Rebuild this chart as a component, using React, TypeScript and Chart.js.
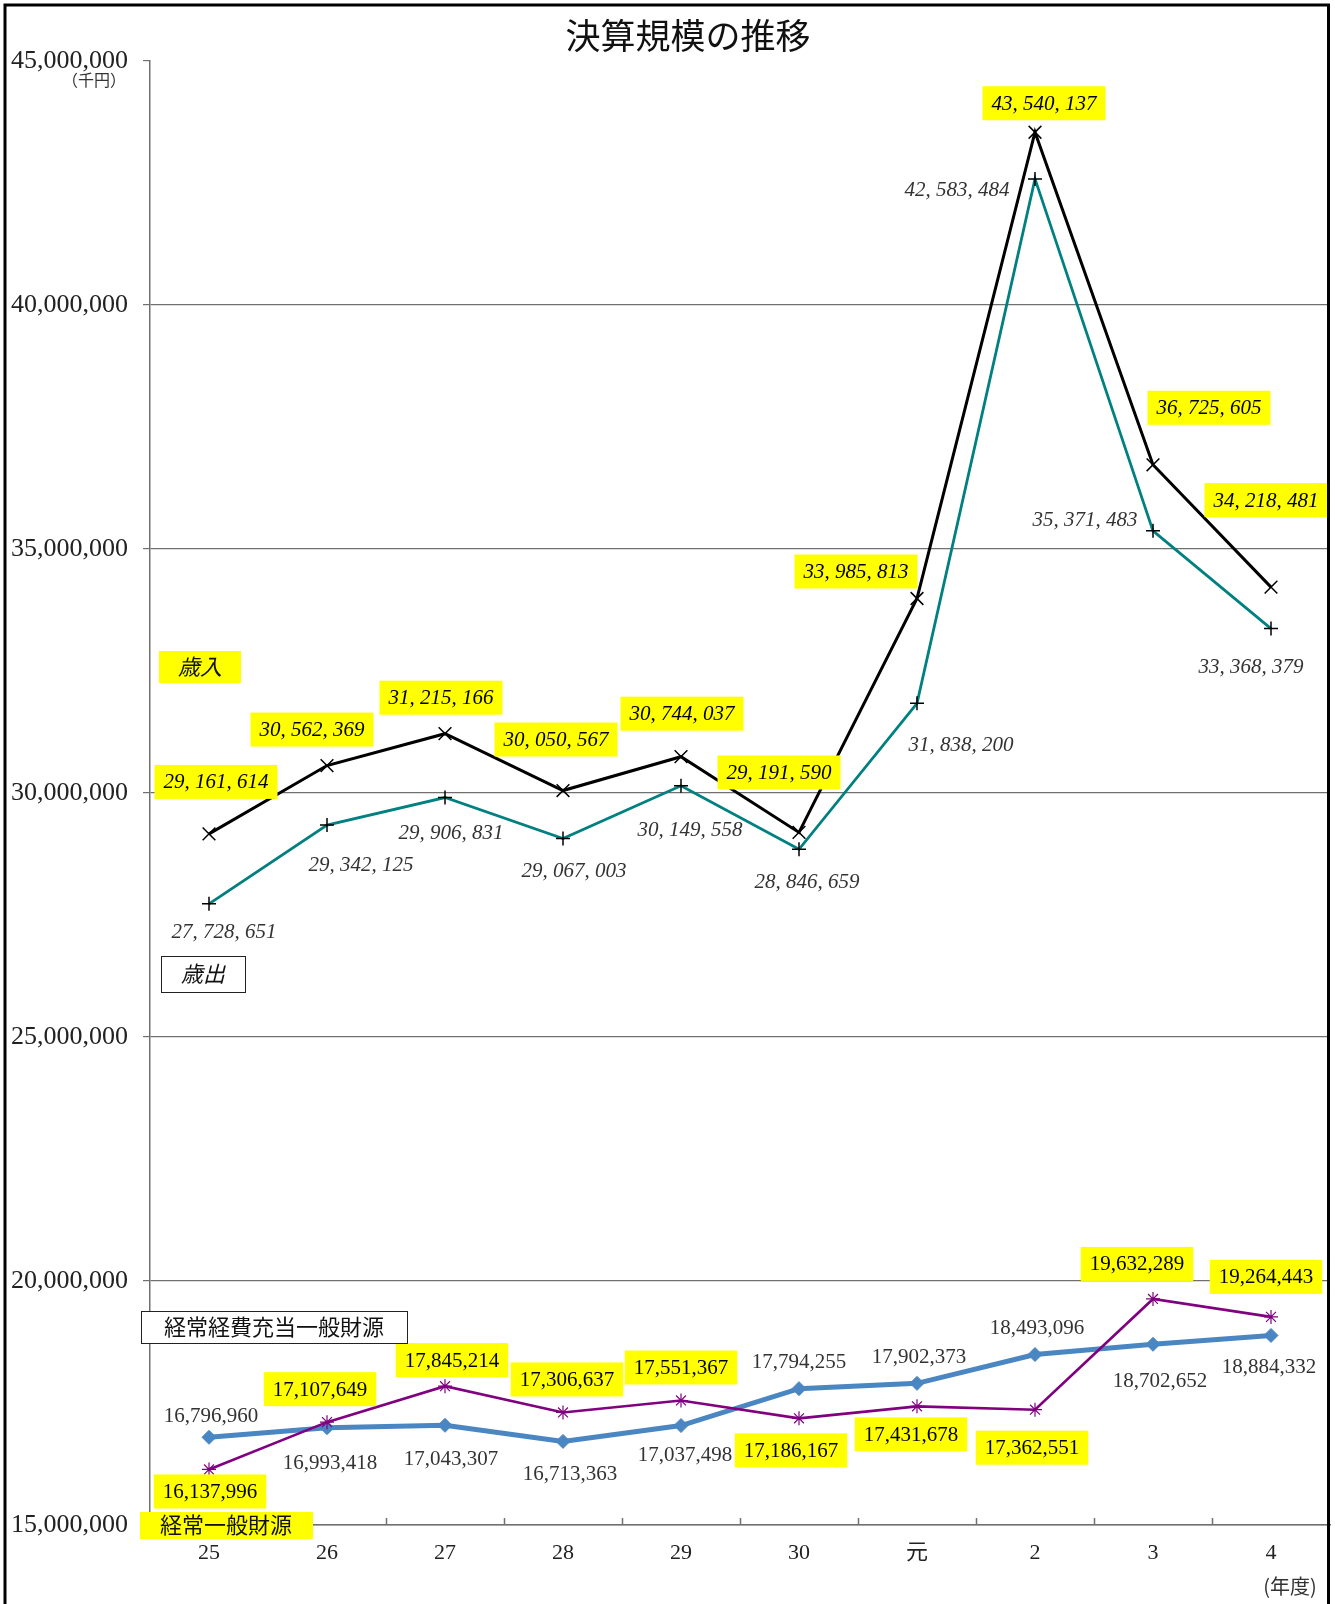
import React, { useEffect, useRef } from "react";
import { Chart, registerables } from "chart.js";

Chart.register(...registerables);

const categories = ["25", "26", "27", "28", "29", "30", "元", "2", "3", "4"];
const revenue = [29161614, 30562369, 31215166, 30050567, 30744037, 29191590, 33985813, 43540137, 36725605, 34218481];
const expenditure = [27728651, 29342125, 29906831, 29067003, 30149558, 28846659, 31838200, 42583484, 35371483, 33368379];
const recurringGeneral = [16137996, 17107649, 17845214, 17306637, 17551367, 17186167, 17431678, 17362551, 19632289, 19264443];
const recurringExpenseGeneral = [16796960, 16993418, 17043307, 16713363, 17037498, 17794255, 17902373, 18493096, 18702652, 18884332];
const yMin = 15000000;
const yMax = 45000000;
const yStep = 5000000;

// label offsets (pixels relative to point)
const revenueOffsets = [[7, -52], [-15, -36], [-4, -36], [-7, -51], [1, -43], [-20, -60], [-61, -27], [9, -29], [56, -57], [-5, -87]];
const expenditureOffsets = [[15, 28], [34, 39], [6, 35], [11, 32], [9, 44], [8, 32], [44, 41], [-78, 11], [-68, -11], [-20, 38]];
const recurringGeneralOffsets = [[1, 22], [-7, -33], [7, -26], [4, -33], [0, -33], [-8, 32], [-6, 28], [-3, 38], [-16, -35], [-5, -40]];
const recurringExpenseOffsets = [[2, -22], [3, 35], [6, 33], [7, 32], [4, 29], [0, -27], [2, -27], [2, -27], [7, 36], [-2, 31]];

const SERIF = "'Liberation Serif', 'Noto Sans CJK JP', serif";
const JP = "'Noto Sans CJK JP', 'Liberation Serif', sans-serif";

const fmtPlain = (n: number) => n.toLocaleString("en-US");
const fmtSpaced = (n: number) => n.toLocaleString("en-US").replace(/,/g, ", ");

const labelSpecs = [
  { values: revenue, offsets: revenueOffsets, fmt: fmtSpaced, italic: true, bg: "#ffff00" },
  { values: expenditure, offsets: expenditureOffsets, fmt: fmtSpaced, italic: true, bg: null },
  { values: recurringGeneral, offsets: recurringGeneralOffsets, fmt: fmtPlain, italic: false, bg: "#ffff00" },
  { values: recurringExpenseGeneral, offsets: recurringExpenseOffsets, fmt: fmtPlain, italic: false, bg: null },
];

const labelPlugin = {
  id: "dataLabels",
  afterDatasetsDraw(chart: any) {
    const ctx = chart.ctx;
    ctx.save();
    labelSpecs.forEach((spec, di) => {
      const meta = chart.getDatasetMeta(di);
      meta.data.forEach((pt: any, j: number) => {
        const [dx, dy] = spec.offsets[j];
        const cx = pt.x + dx;
        const cy = pt.y + dy;
        const text = spec.fmt(spec.values[j]);
        ctx.font = (spec.italic ? "italic " : "") + "21px " + SERIF;
        const w = ctx.measureText(text).width;
        if (spec.bg) {
          ctx.fillStyle = spec.bg;
          ctx.fillRect(cx - w / 2 - 9, cy - 17, w + 18, 34);
          ctx.fillStyle = "#000";
        } else {
          ctx.fillStyle = "#333";
        }
        ctx.textAlign = "center";
        ctx.textBaseline = "middle";
        ctx.fillText(text, cx, cy + 1);
      });
    });
    ctx.restore();
  },
};

const decorPlugin = {
  id: "decor",
  afterDraw(chart: any) {
    const ctx = chart.ctx;
    const xs = chart.scales.x;
    const area = chart.chartArea;
    ctx.save();
    // inner ticks between categories
    ctx.strokeStyle = "#707070";
    ctx.lineWidth = 1.5;
    for (let i = 1; i < categories.length; i++) {
      const x = Math.round((xs.getPixelForValue(i - 1) + xs.getPixelForValue(i)) / 2) + 0.5;
      ctx.beginPath();
      ctx.moveTo(x, area.bottom);
      ctx.lineTo(x, area.bottom - 7);
      ctx.stroke();
    }
    // title
    ctx.fillStyle = "#111";
    ctx.textAlign = "center";
    ctx.textBaseline = "middle";
    ctx.font = "35px " + JP;
    ctx.fillText("決算規模の推移", 688, 36);
    // units
    ctx.font = "16px " + JP;
    ctx.fillStyle = "#333";
    ctx.fillText("（千円）", 94, 80);
    ctx.font = "20px " + JP;
    ctx.fillText("(年度)", 1290, 1586);

    // annotation boxes
    ctx.fillStyle = "#ffff00";
    ctx.fillRect(159, 651, 82, 32);
    ctx.fillStyle = "#111";
    ctx.font = "italic 22px " + JP;
    ctx.fillText("歳入", 200, 667);

    ctx.fillStyle = "#fff";
    ctx.fillRect(161, 956, 84, 36);
    ctx.strokeStyle = "#222";
    ctx.lineWidth = 1;
    ctx.strokeRect(161.5, 956.5, 84, 36);
    ctx.fillStyle = "#111";
    ctx.fillText("歳出", 203, 974);

    ctx.fillStyle = "#fff";
    ctx.fillRect(141, 1311, 266, 32);
    ctx.strokeRect(141.5, 1311.5, 266, 32);
    ctx.fillStyle = "#111";
    ctx.font = "22px " + JP;
    ctx.fillText("経常経費充当一般財源", 274, 1327);

    ctx.fillStyle = "#ffff00";
    ctx.fillRect(140, 1512, 173, 27);
    ctx.fillStyle = "#111";
    ctx.fillText("経常一般財源", 226, 1525);

    // outer frame
    ctx.strokeStyle = "#000";
    ctx.lineWidth = 3;
    ctx.strokeRect(5, 5, 1323.5, 1620);
    ctx.restore();
  },
};

export default function App() {
  const ref = useRef<HTMLCanvasElement | null>(null);
  useEffect(() => {
    if (!ref.current) return;
    const chart = new Chart(ref.current, {
      type: "line",
      data: {
        labels: categories,
        datasets: [
          {
            label: "歳入",
            data: revenue,
            borderColor: "#000",
            borderWidth: 3,
            pointStyle: "crossRot",
            pointRadius: 9,
            pointBorderColor: "#000",
            pointBorderWidth: 1.5,
            tension: 0,
          },
          {
            label: "歳出",
            data: expenditure,
            borderColor: "#008080",
            borderWidth: 2.8,
            pointStyle: "cross",
            pointRadius: 7,
            pointBorderColor: "#000",
            pointBorderWidth: 1.5,
            tension: 0,
          },
          {
            label: "経常一般財源",
            data: recurringGeneral,
            borderColor: "#800080",
            borderWidth: 2.6,
            pointStyle: "star",
            pointRadius: 7,
            pointBorderColor: "#800080",
            pointBorderWidth: 1.2,
            tension: 0,
          },
          {
            label: "経常経費充当一般財源",
            data: recurringExpenseGeneral,
            borderColor: "#4a86c2",
            backgroundColor: "#4a86c2",
            borderWidth: 5,
            pointStyle: "rectRot",
            pointRadius: 7,
            pointBorderColor: "#4a86c2",
            pointBackgroundColor: "#4a86c2",
            pointBorderWidth: 1,
            tension: 0,
          },
        ],
      },
      options: {
        responsive: false,
        animation: false,
        devicePixelRatio: 1,
        layout: { autoPadding: false, padding: { left: 0, top: 61, right: 5, bottom: 0 } },
        plugins: { legend: { display: false }, tooltip: { enabled: false }, title: { display: false } },
        scales: {
          x: {
            offset: true,
            grid: { display: false, offset: true },
            border: { display: true, color: "#707070", width: 1.5 },
            ticks: { font: { family: SERIF, size: 22 }, color: "#222", padding: 7 },
            afterFit: (s: any) => {
              s.height = 79;
              s.paddingLeft = 0;
              s.paddingRight = 0;
            },
          },
          y: {
            min: yMin,
            max: yMax,
            ticks: {
              stepSize: yStep,
              font: { family: SERIF, size: 26 },
              color: "#222",
              padding: 15,
              callback: (v: any) => Number(v).toLocaleString("en-US"),
            },
            grid: {
              color: (c: any) => (c.tick && c.tick.value === yMax ? "rgba(0,0,0,0)" : "#707070"),
              tickColor: "#707070",
              tickLength: 7,
              lineWidth: 1.2,
            },
            border: { display: true, color: "#707070", width: 1.5 },
            afterFit: (s: any) => {
              s.width = 150;
            },
          },
        },
      },
      plugins: [labelPlugin, decorPlugin],
    });
    return () => chart.destroy();
  }, []);
  return (
    <div style={{ position: "absolute", left: 0, top: 0, width: 1335, height: 1604, background: "#fff" }}>
      <canvas ref={ref} width={1335} height={1604} style={{ display: "block" }} />
    </div>
  );
}
